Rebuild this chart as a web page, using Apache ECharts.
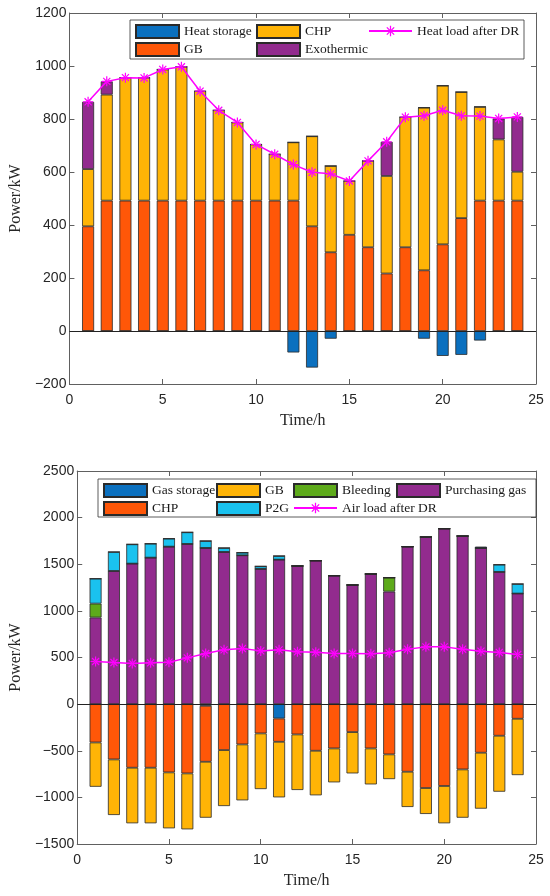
<!DOCTYPE html>
<html>
<head>
<meta charset="utf-8">
<script src="https://cdn.jsdelivr.net/npm/echarts@6/dist/echarts.min.js"></script>
<style>
html,body{margin:0;padding:0;background:#fff;}
#chart{width:550px;height:896px;}
</style>
</head>
<body>
<div id="chart"></div>
<script>
// ---------- Data ----------
const hours = [1,2,3,4,5,6,7,8,9,10,11,12,13,14,15,16,17,18,19,20,21,22,23,24];
// x-axis slots 0..25, labelled every 5
const xSlots = ['0','1','2','3','4','5','6','7','8','9','10','11','12','13','14','15','16','17','18','19','20','21','22','23','24','25'];

// Heat balance (kW)
const heatStorage = [0,0,0,0,0,0,0,0,0,0,0,-81,-138,-29,0,0,0,0,-29,-94,-90,-36,0,0];
const gbHeat      = [395,492,492,492,492,492,492,492,492,492,492,492,395,297,363,316,217,316,229,327,426,492,492,492];
const chpHeat     = [216,400,464,464,495,505,413,341,295,212,175,220,340,326,203,326,368,491,614,599,476,354,231,109];
const exothermic  = [254,50,0,0,0,0,0,0,0,0,0,0,0,0,0,0,129,0,0,0,0,0,79,207];
const heatLoad    = [865,942,956,955,987,997,905,833,787,704,667,628,599,593,566,642,714,807,812,833,812,811,802,808];

// Gas balance (kW)
const gasStorageNeg = [0,0,0,0,0,0,-18,0,0,0,-154,0,0,0,0,0,0,0,0,0,0,0,0,0];
const gasStoragePos = [0,0,0,0,0,0,0,0,0,0,0,0,0,0,0,0,0,0,0,0,0,14,0,0];
const chpGas        = [-411,-593,-682,-682,-732,-743,-600,-493,-432,-314,-250,-325,-500,-475,-300,-475,-539,-725,-900,-878,-700,-521,-339,-157];
const gbGas         = [-475,-596,-596,-596,-600,-600,-600,-600,-600,-597,-596,-596,-478,-364,-443,-386,-265,-378,-278,-400,-518,-600,-600,-604];
const purchasingGas = [929,1428,1507,1571,1689,1718,1675,1632,1596,1450,1550,1482,1539,1378,1278,1396,1207,1689,1793,1882,1803,1675,1418,1186];
const bleeding      = [149,0,0,0,0,0,0,0,0,0,0,0,0,0,0,0,150,0,0,0,0,0,0,0];
const p2g           = [268,204,207,150,86,125,75,43,29,28,39,0,0,0,0,0,0,0,0,0,0,0,78,103];
const airLoad       = [457,446,436,443,450,496,543,582,596,571,582,561,557,543,543,539,550,589,614,614,589,568,554,532];

// Y-axis ticks
const yHeatTicks = {min:-200, max:1200, interval:200};
const yGasTicks = {min:-1500, max:2500, interval:500};

// ---------- Styling ----------
const C = {
  storage:'#0B70BF', gb:'#FF5708', chp:'#FFB406', exo:'#922B8E',
  bleed:'#5DAA1A', p2g:'#1AC2EF', purch:'#922B8E', load:'#FF00FF'
};
const serif = 'Liberation Serif';
const sans = 'Liberation Sans';
const axisColor = '#606060';
const labelColor = '#262626';

const asterisk = 'path://M-1.2,-10L1.2,-10L1.2,10L-1.2,10Z M-10,-1.2L10,-1.2L10,1.2L-10,1.2Z ' +
  'M-6.22,-7.92L7.92,6.22L6.22,7.92L-7.92,-6.22Z M-6.22,7.92L7.92,-6.22L6.22,-7.92L-7.92,6.22Z';

// hour h sits in slot h of the category axis
const slotData = arr => hours.map((h,i)=>[String(h), arr[i]]);
const minusFmt = v => String(v).replace('-', '\u2212');
const every5 = i => i % 5 === 0;

function xAxes(gridIndex){
  const common = {type:'category', gridIndex, data:xSlots, boundaryGap:false,
    axisLine:{onZero:false, lineStyle:{color:axisColor, width:1}},
    axisTick:{inside:true, length:5, interval:every5, lineStyle:{color:axisColor}},
    splitLine:{show:false}};
  return [
    Object.assign({}, common, {position:'bottom',
     name:'Time/h', nameLocation:'middle', nameGap:29,
     nameTextStyle:{fontFamily:serif, fontSize:16, color:labelColor},
     axisLabel:{interval:every5, fontFamily:sans, fontSize:14, color:labelColor, margin:9}}),
    Object.assign({}, common, {position:'top', axisLabel:{show:false}})
  ];
}
function yAxes(gridIndex, ticks){
  return [
    {type:'value', gridIndex, ...ticks, position:'left',
     name:'Power/kW', nameLocation:'middle', nameGap:42,
     nameTextStyle:{fontFamily:serif, fontSize:16, color:labelColor},
     axisLine:{show:true, onZero:false, lineStyle:{color:axisColor, width:1}},
     axisTick:{show:true, inside:true, length:5, lineStyle:{color:axisColor}},
     axisLabel:{fontFamily:sans, fontSize:14, color:labelColor, margin:3, formatter:minusFmt},
     splitLine:{show:false}},
    {type:'value', gridIndex, ...ticks, position:'right',
     axisLine:{show:true, onZero:false, lineStyle:{color:axisColor, width:1}},
     axisTick:{show:true, inside:true, length:5, lineStyle:{color:axisColor}},
     axisLabel:{show:false}, splitLine:{show:false}}
  ];
}

function bar(name, arr, color, xi, yi, stack, extra){
  return Object.assign({
    type:'bar', name, data:slotData(arr), xAxisIndex:xi, yAxisIndex:yi,
    stack, barWidth:12, stackStrategy:'samesign',
    itemStyle:{color, borderColor:'#2a2a2a', borderWidth:0.8},
    emphasis:{disabled:true}, animation:false
  }, extra||{});
}
function zeroLine(){
  return {silent:true, symbol:'none', label:{show:false},
    lineStyle:{color:'#222', type:'solid', width:1}, data:[{yAxis:0}], animation:false};
}
function loadLine(name, arr, xi, yi){
  return {type:'line', name, data:slotData(arr), xAxisIndex:xi, yAxisIndex:yi,
    symbol:asterisk, symbolSize:10, z:5,
    lineStyle:{color:C.load, width:1.5}, itemStyle:{color:C.load},
    emphasis:{disabled:true}, animation:false};
}

const legendText = {fontFamily:serif, fontSize:13.5, color:'#1a1a1a', lineHeight:14};
function legendCol(left, top, names){
  return {orient:'vertical', left, top,
    data:names.map(n => n.startsWith('Heat load') || n.startsWith('Air load') ? {name:n} : {name:n, icon:'rect'}),
    itemWidth:43, itemHeight:13, itemGap:3,
    textStyle:legendText, selectedMode:false, padding:0, z:10};
}

const option = {
  backgroundColor:'#ffffff',
  animation:false,
  grid:[
    {left:63, right:14, top:13, height:371},
    {left:69, right:14, top:471, height:373}
  ],
  xAxis:[...xAxes(0), ...xAxes(1)],
  yAxis:[...yAxes(0, yHeatTicks), ...yAxes(1, yGasTicks)],
  graphic:[
    {type:'rect', shape:{x:130, y:20, width:394, height:39}, z:8,
     style:{fill:'#fff', stroke:'#333', lineWidth:0.8}},
    {type:'rect', shape:{x:98, y:479, width:438, height:38}, z:8,
     style:{fill:'#fff', stroke:'#333', lineWidth:0.8}}
  ],
  legend:[
    legendCol(135, 24, ['Heat storage','GB']),
    legendCol(256, 24, ['CHP','Exothermic']),
    legendCol(368, 24, ['Heat load after DR']),
    legendCol(103, 483, ['Gas storage','CHP ']),
    legendCol(216, 483, ['GB ','P2G']),
    legendCol(293, 483, ['Bleeding','Air load after DR']),
    legendCol(396, 483, ['Purchasing gas'])
  ],
  series:[
    bar('Heat storage', heatStorage, C.storage, 0, 0, 'heat', {markLine:zeroLine()}),
    bar('GB', gbHeat, C.gb, 0, 0, 'heat'),
    bar('CHP', chpHeat, C.chp, 0, 0, 'heat'),
    bar('Exothermic', exothermic, C.exo, 0, 0, 'heat'),
    loadLine('Heat load after DR', heatLoad, 0, 0),

    bar('Gas storage', gasStorageNeg, C.storage, 2, 2, 'gas', {markLine:zeroLine()}),
    bar('CHP ', chpGas, C.gb, 2, 2, 'gas'),
    bar('GB ', gbGas, C.chp, 2, 2, 'gas'),
    bar('Purchasing gas', purchasingGas, C.purch, 2, 2, 'gas'),
    bar('Bleeding', bleeding, C.bleed, 2, 2, 'gas'),
    bar('P2G', p2g, C.p2g, 2, 2, 'gas'),
    bar('Gas storage', gasStoragePos, C.storage, 2, 2, 'gas'),
    loadLine('Air load after DR', airLoad, 2, 2)
  ]
};

const chart = echarts.init(document.getElementById('chart'), null, {renderer:'canvas'});
chart.setOption(option);
</script>
</body>
</html>
